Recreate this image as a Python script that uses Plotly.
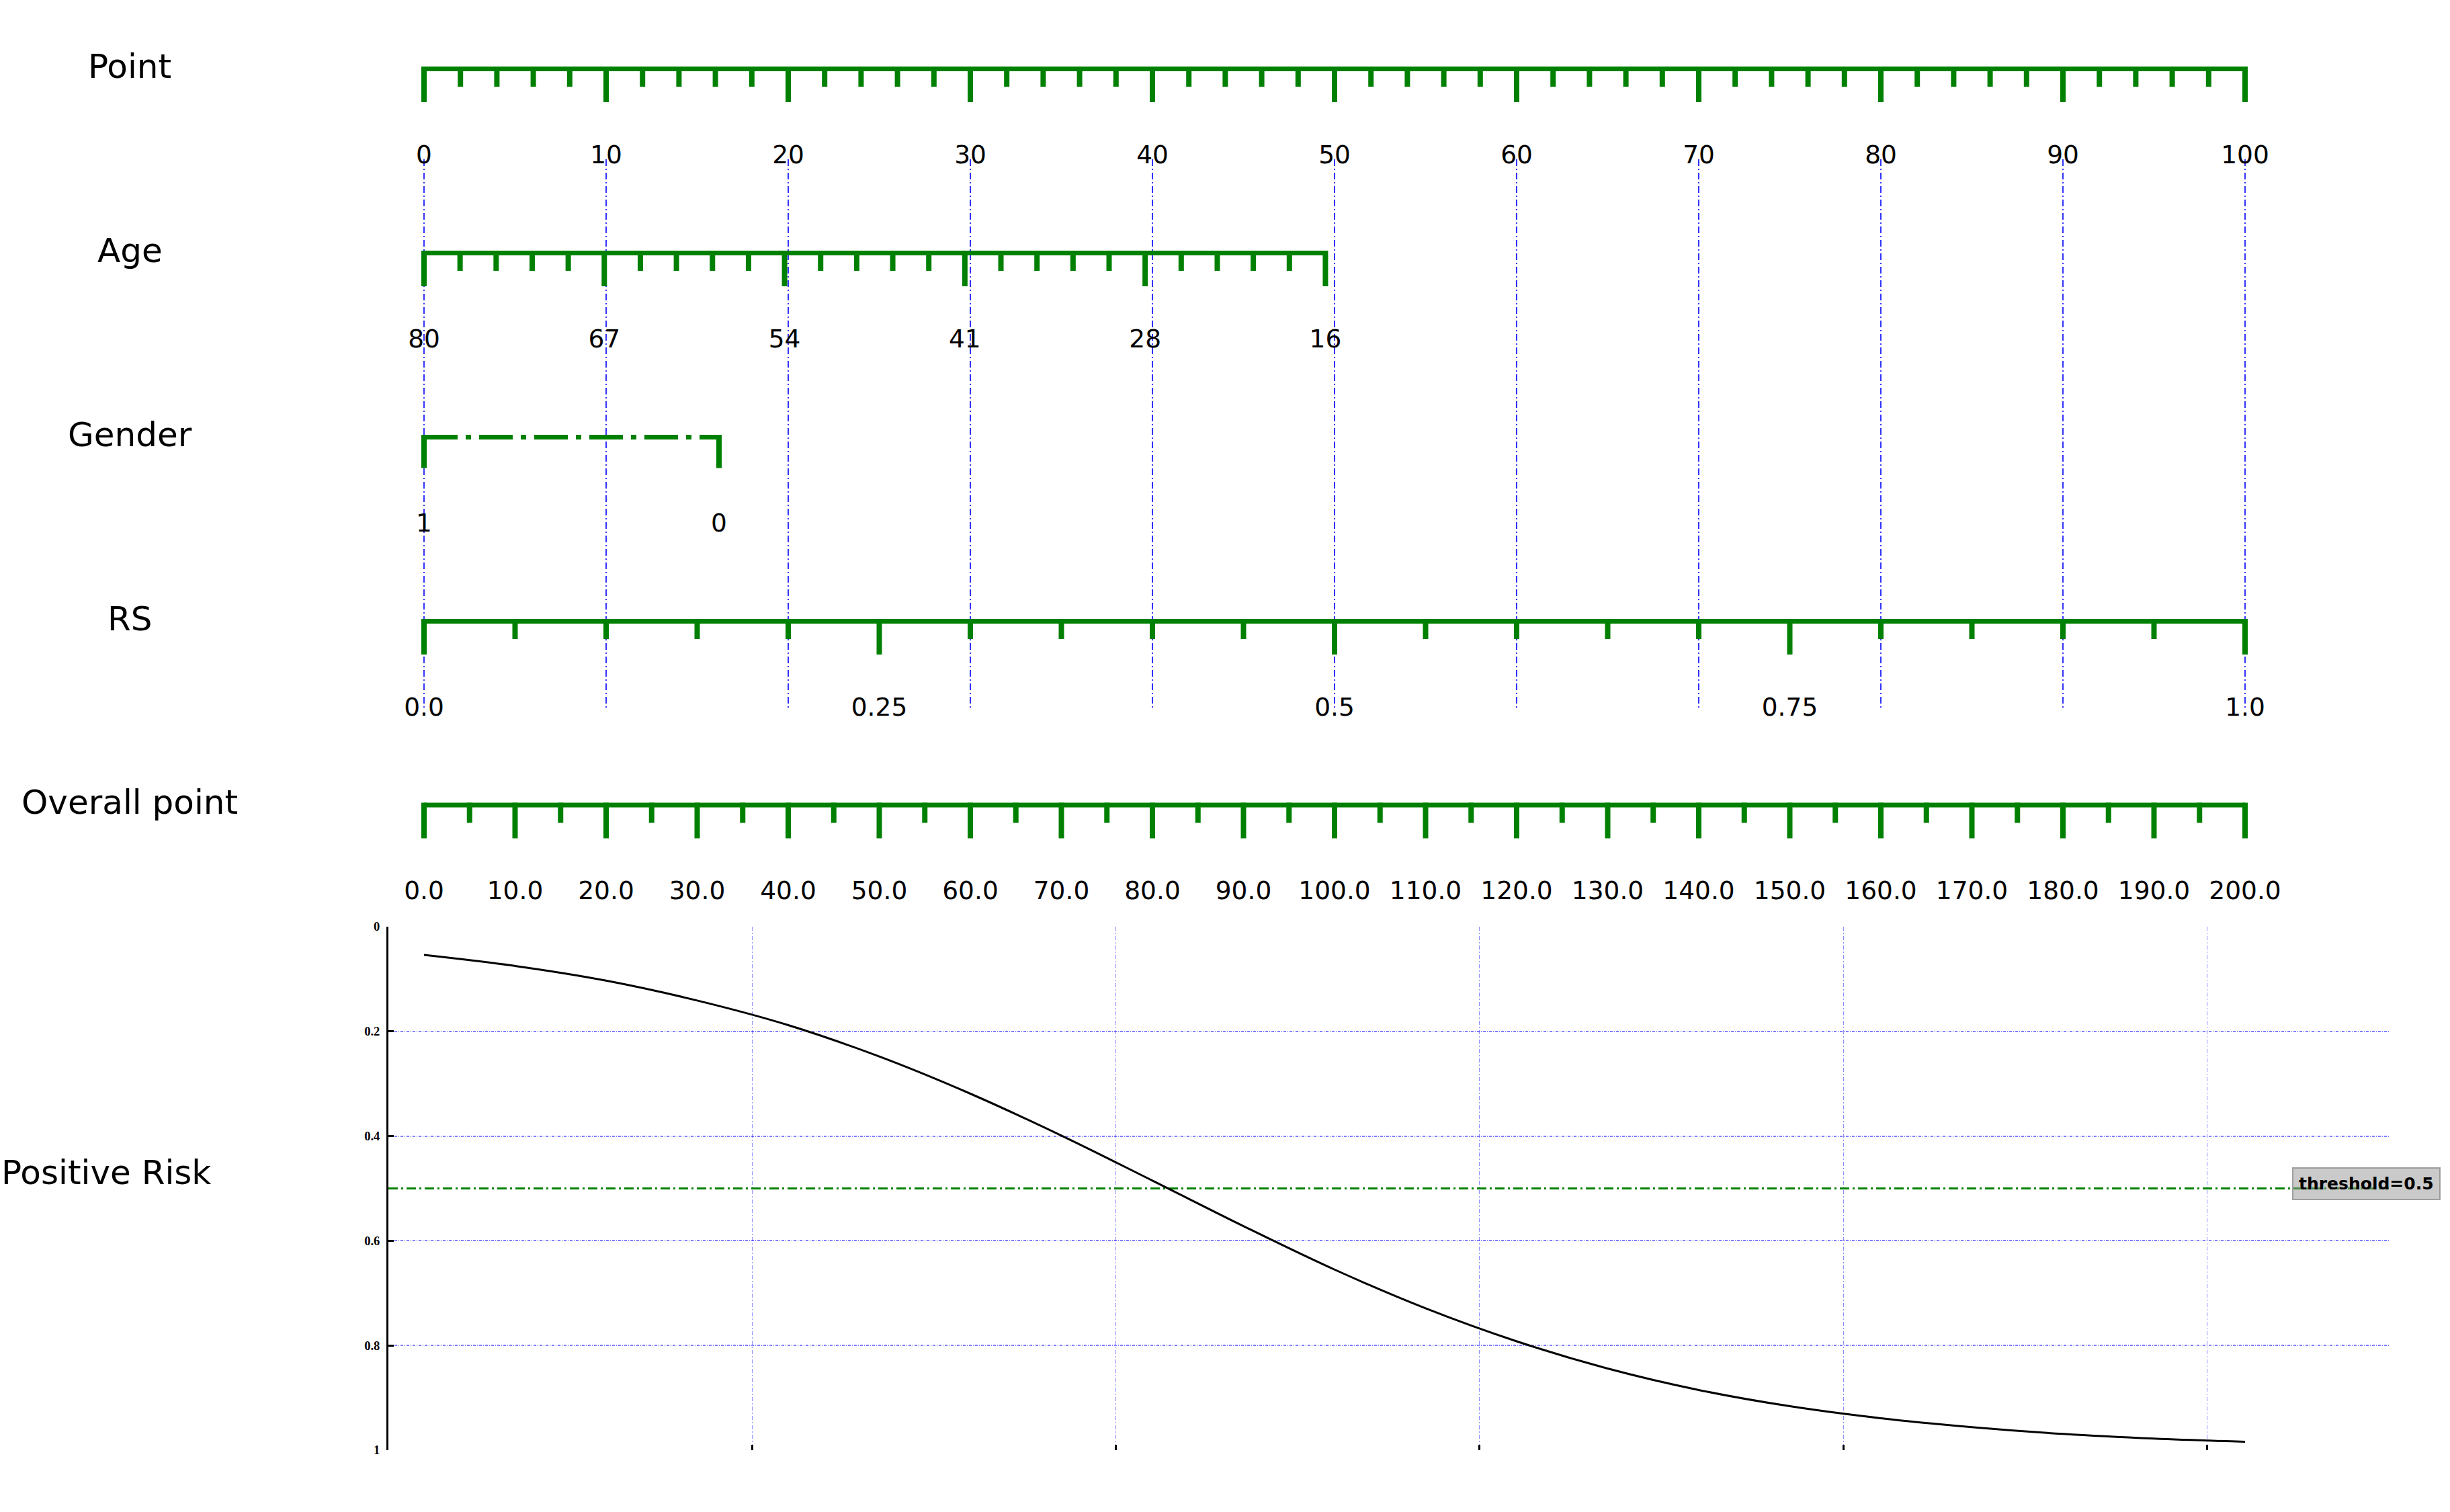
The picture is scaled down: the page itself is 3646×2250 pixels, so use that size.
import plotly.graph_objects as go

W, H = 3646, 2250

# ---------------- data ----------------
POINT_VALUES = list(range(0, 101, 10))
AGE_VALUES = [80, 67, 54, 41, 28, 16]
AGE_POINTS = [0.0, 9.9, 19.8, 29.7, 39.6, 49.5]
GENDER_VALUES = [1, 0]
GENDER_POINTS = [0.0, 16.2]
RS_LABELS = ["0.0", "0.25", "0.5", "0.75", "1.0"]
RS_POINTS = [0.0, 25.0, 50.0, 75.0, 100.0]
TOTAL_VALUES = list(range(0, 201, 10))
RISK_TOTAL = list(range(0, 201, 10))
RISK_VALUES = [0.054, 0.075, 0.103, 0.141, 0.188, 0.248, 0.319, 0.399, 0.485,
               0.572, 0.655, 0.729, 0.792, 0.844, 0.885, 0.916, 0.939, 0.956,
               0.969, 0.978, 0.984]
THRESHOLD = 0.5
RISK_TICKS = [0, 0.2, 0.4, 0.6, 0.8, 1]
RISK_TICK_LABELS = ["0", "0.2", "0.4", "0.6", "0.8", "1"]
ROW_NAMES = ["Point", "Age", "Gender", "RS", "Overall point"]

# ---------------- layout constants ----------------
GREEN = "#008000"
PX_LEFT, PX_RIGHT = 631.0, 3341.0          # pixel x of point 0 and point 100
ROW_Y = [102.5, 376.5, 650.5, 924.5, 1198.0]
MAJOR_LEN, MINOR_LEN, GENDER_LEN = 49.5, 26.5, 46.0
LABEL_DY = 131
LINE_W, TICK_W = 7, 8
NAME_X = 193
NAME_DY = -4
BOT_L, BOT_R, BOT_T, BOT_B = 578, 3555, 1379, 2158
BOT_GRID_N = 5.5                             # grid spacing = panel width / 5.5
VLINE_TOP, VLINE_BOT = 237, 1057


def px2pt(px):
    return (px - PX_LEFT) / (PX_RIGHT - PX_LEFT) * 100.0


def subdivide(majors, n):
    out = []
    for a, b in zip(majors[:-1], majors[1:]):
        for k in range(1, n):
            out.append(a + (b - a) * k / n)
    return out


fig = go.Figure()

# blue reference lines from the Point scale
vx, vy = [], []
for p in POINT_VALUES:
    vx += [p, p, None]
    vy += [VLINE_TOP, VLINE_BOT, None]
fig.add_trace(go.Scatter(x=vx, y=vy, mode="lines",
                         line=dict(color="#0000ff", width=1.6, dash="10px,4px,2px,4px"),
                         hoverinfo="skip", showlegend=False))


def add_row(y, majors, minors, labels, major_len=MAJOR_LEN, dash="solid"):
    x0, x1 = min(majors), max(majors)
    fig.add_trace(go.Scatter(x=[x0, x1], y=[y, y], mode="lines",
                             line=dict(color=GREEN, width=LINE_W, dash=dash),
                             hoverinfo="skip", showlegend=False))
    xs, ys = [], []
    top = y - LINE_W / 2
    for p in majors:
        xs += [p, p, None]
        ys += [top, y + major_len, None]
    for p in minors:
        xs += [p, p, None]
        ys += [top, y + MINOR_LEN, None]
    fig.add_trace(go.Scatter(x=xs, y=ys, mode="lines",
                             line=dict(color=GREEN, width=TICK_W),
                             hoverinfo="skip", showlegend=False))
    fig.add_trace(go.Scatter(x=majors, y=[y + LABEL_DY] * len(majors), mode="text",
                             text=labels, textposition="middle center",
                             textfont=dict(family="DejaVu Sans", size=37.5, color="black"),
                             hoverinfo="skip", showlegend=False, cliponaxis=False))


# Point
add_row(ROW_Y[0], POINT_VALUES, subdivide(POINT_VALUES, 5), [str(v) for v in POINT_VALUES])
# Age
add_row(ROW_Y[1], AGE_POINTS, subdivide(AGE_POINTS, 5), [str(v) for v in AGE_VALUES])
# Gender
add_row(ROW_Y[2], GENDER_POINTS, [], [str(v) for v in GENDER_VALUES],
        major_len=GENDER_LEN, dash="50px,12px,8px,12px")
# RS
add_row(ROW_Y[3], RS_POINTS, subdivide(RS_POINTS, 5), RS_LABELS)
# Overall point
total_pos = [v / 2.0 for v in TOTAL_VALUES]
add_row(ROW_Y[4], total_pos, subdivide(total_pos, 2), ["%.1f" % v for v in TOTAL_VALUES])

# ---------------- bottom panel: risk vs overall point ----------------
bot_range = [2 * px2pt(BOT_L), 2 * px2pt(BOT_R)]
grid_step_px = (BOT_R - BOT_L) / BOT_GRID_N
bot_grid = [2 * px2pt(BOT_L + k * grid_step_px) for k in range(6)]

fig.add_trace(go.Scatter(x=bot_range, y=[THRESHOLD, THRESHOLD], mode="lines",
                         line=dict(color=GREEN, width=3, dash="14px,5px,3px,5px"),
                         xaxis="x2", yaxis="y2", hoverinfo="skip", showlegend=False,
                         cliponaxis=False))
fig.add_trace(go.Scatter(x=RISK_TOTAL, y=RISK_VALUES, mode="lines",
                         line=dict(color="black", width=3, shape="spline"),
                         xaxis="x2", yaxis="y2", hoverinfo="skip", showlegend=False))

annotations = []
for name, y in zip(ROW_NAMES, ROW_Y):
    annotations.append(dict(text=name, xref="paper", yref="paper",
                            x=NAME_X / W, y=1 - (y + NAME_DY) / H,
                            xanchor="center", yanchor="middle", showarrow=False,
                            font=dict(family="DejaVu Sans", size=50, color="black")))
annotations.append(dict(text="Positive Risk", xref="paper", yref="paper",
                        x=158 / W, y=1 - 1745 / H, xanchor="center", yanchor="middle",
                        showarrow=False,
                        font=dict(family="DejaVu Sans", size=50, color="black")))
annotations.append(dict(text="threshold=%s" % THRESHOLD, xref="paper", yref="y2",
                        x=3411 / W, y=THRESHOLD, xanchor="left", yanchor="middle",
                        yshift=7, showarrow=False,
                        bgcolor="rgba(150,150,150,0.5)", bordercolor="rgba(140,140,140,0.8)",
                        borderwidth=2, borderpad=8,
                        font=dict(family="DejaVu Sans", size=25, color="black", weight="bold")))

fig.update_layout(
    width=W, height=H, margin=dict(l=0, r=0, t=0, b=0, pad=0, autoexpand=False),
    paper_bgcolor="white", plot_bgcolor="rgba(0,0,0,0)",
    showlegend=False, annotations=annotations,
    xaxis=dict(domain=[0, 1], range=[px2pt(0), px2pt(W)], visible=False,
               fixedrange=True, automargin=False),
    yaxis=dict(domain=[0, 1], range=[H, 0], visible=False, fixedrange=True,
               automargin=False),
    xaxis2=dict(domain=[BOT_L / W, BOT_R / W], anchor="y2", range=bot_range,
                tickvals=bot_grid, ticks="inside", ticklen=8, tickwidth=3,
                tickcolor="black", showticklabels=False, showline=False, zeroline=False,
                showgrid=True, gridcolor="rgba(0,0,255,0.45)", gridwidth=1.2,
                griddash="6px,3px,2px,3px", fixedrange=True, automargin=False),
    yaxis2=dict(domain=[1 - BOT_B / H, 1 - BOT_T / H], anchor="x2", range=[1, 0],
                tickvals=RISK_TICKS, ticktext=RISK_TICK_LABELS, ticks="inside",
                ticklen=8, tickwidth=3, tickcolor="black", showline=True, linewidth=3,
                linecolor="black", zeroline=False, showgrid=True,
                gridcolor="rgba(0,0,255,0.5)", gridwidth=2, griddash="4px,2px,1px,2px",
                ticklabelstandoff=6, automargin=False,
                tickfont=dict(family="Liberation Serif", size=18.5, color="black",
                              weight="bold"),
                fixedrange=True),
)

fig.write_html("out.html")
